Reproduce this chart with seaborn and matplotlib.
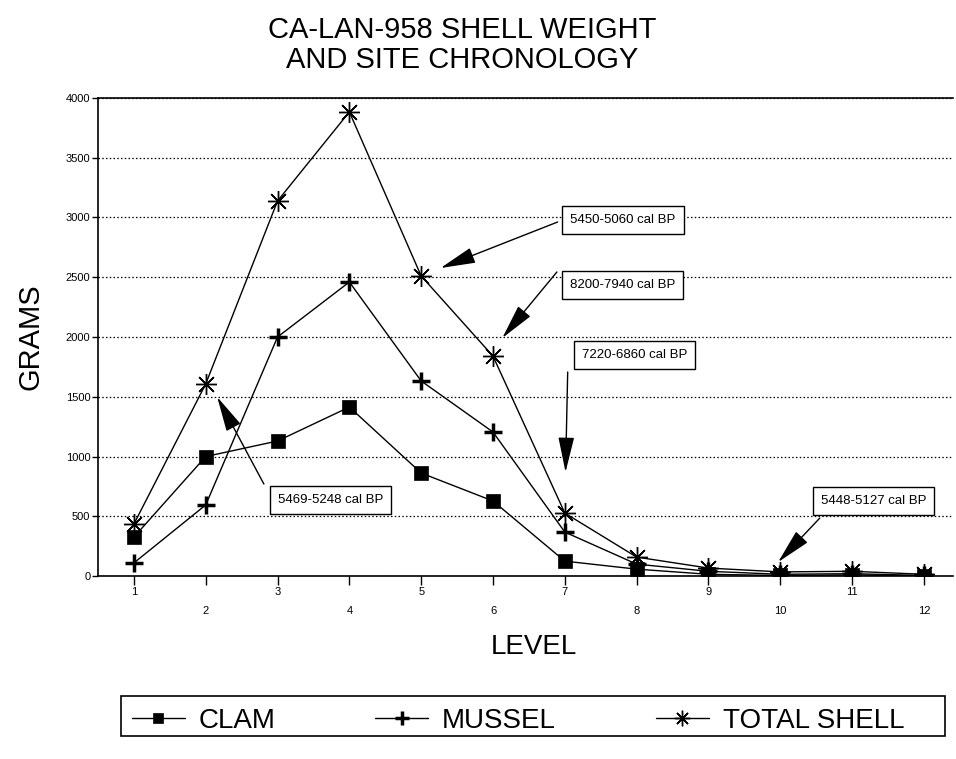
import numpy as np
import pandas as pd
import matplotlib
matplotlib.use('Agg')
import matplotlib.pyplot as plt
import seaborn as sns
from matplotlib.patches import Rectangle

# values
levels = [1, 2, 3, 4, 5, 6, 7, 8, 9, 10, 11, 12]
clam = [326, 1000, 1130, 1414, 862, 628, 125, 58, 15, 5, 10, 0]
mussel = [110, 595, 2000, 2460, 1632, 1205, 368, 100, 40, 15, 20, 5]
total_shell = [435, 1607, 3138, 3883, 2510, 1840, 527, 159, 67, 35, 40, 15]

# date labels: text, box centre, arrow start, arrow tip (level, grams)
notes = ['5450-5060 cal BP', '8200-7940 cal BP', '7220-6860 cal BP',
         '5469-5248 cal BP', '5448-5127 cal BP']
note_box = [(7.81, 2979), (7.80, 2435), (7.97, 1849), (3.74, 636), (11.30, 628)]
note_from = [(6.90, 2962), (6.89, 2544), (7.04, 1707), (2.81, 770), (10.55, 485)]
note_to = [(5.27, 2577), (6.13, 1992), (7.01, 870), (2.16, 1498), (9.97, 117)]

sns.set_style('white')
plt.rcParams['font.family'] = ['Liberation Sans', 'DejaVu Sans']
for k in ['text.color', 'axes.labelcolor', 'xtick.color', 'ytick.color']:
    plt.rcParams[k] = 'k'

fig = plt.figure(figsize=(9.56, 7.59), dpi=100)
ax = fig.add_axes([0.1025, 0.241, 0.894, 0.630])

sns.lineplot(x=levels, y=clam, ax=ax, color='k', lw=1, marker='s',
             markersize=10, markeredgecolor='k', markeredgewidth=0.5, label='CLAM')
sns.lineplot(x=levels, y=mussel, ax=ax, color='k', lw=1, marker='+',
             markersize=13, markeredgecolor='k', markeredgewidth=2.5, label='MUSSEL')
sns.lineplot(x=levels, y=total_shell, ax=ax, color='k', lw=1, marker=(8, 2, 0),
             markersize=15, markeredgecolor='k', markeredgewidth=1,
             label='TOTAL SHELL')

ax.set_xlim(0.5, 12.4)
ax.set_ylim(0, 4000)
ax.set_yticks(np.arange(0, 4001, 500))
ax.set_xticks(levels)
ax.set_xticklabels([str(v) for v in levels])
ax.yaxis.grid(True, linestyle=(0, (1.2, 1.8)), color='k', lw=0.9)
ax.tick_params(axis='both', direction='out', width=1, labelsize=8,
               color='k', bottom=True, left=True)
ax.tick_params(axis='y', length=4, pad=1.5)
ax.tick_params(axis='x', length=6.5, pad=1.5)
for i, t in enumerate(ax.xaxis.get_major_ticks()):
    if i % 2 == 1:
        t.set_pad(15)
for s in ['left', 'bottom', 'top']:
    ax.spines[s].set_color('k')
    ax.spines[s].set_linewidth(1.2)
ax.spines['right'].set_visible(False)

ax.set_xlabel('LEVEL', fontsize=20, labelpad=13)
ax.xaxis.label.set_x(0.51)
ax.set_ylabel('GRAMS', fontsize=21, labelpad=15)
fig.suptitle('CA-LAN-958 SHELL WEIGHT\nAND SITE CHRONOLOGY', fontsize=21,
             x=0.483, y=0.979, linespacing=1.1)

for txt, b, f, t in zip(notes, note_box, note_from, note_to):
    ax.annotate('', xy=t, xytext=f,
                arrowprops=dict(arrowstyle='-|>,head_length=2.2,head_width=0.5',
                                mutation_scale=10, color='k', lw=1,
                                shrinkA=0, shrinkB=0))
    ax.text(b[0], b[1], txt, fontsize=9.5, ha='center', va='center', zorder=5,
            bbox=dict(boxstyle='square,pad=0.6', fc='white', ec='k', lw=1))

ax.get_legend().remove()
h, l = ax.get_legend_handles_labels()
leg = fig.legend(h, l, ncol=3, loc='center left',
                 bbox_to_anchor=(0.138, 0.050), frameon=False,
                 fontsize=20, handlelength=1.9, handletextpad=0.5,
                 columnspacing=3.6, borderpad=0, borderaxespad=0)
for lh in leg.legend_handles:
    lh.set_markersize(lh.get_markersize() * 0.75)
fig.patches.append(Rectangle((0.1266, 0.030), 0.862, 0.053, transform=fig.transFigure,
                             fill=False, ec='k', lw=1.2))

fig.savefig('out.png', dpi=100)
